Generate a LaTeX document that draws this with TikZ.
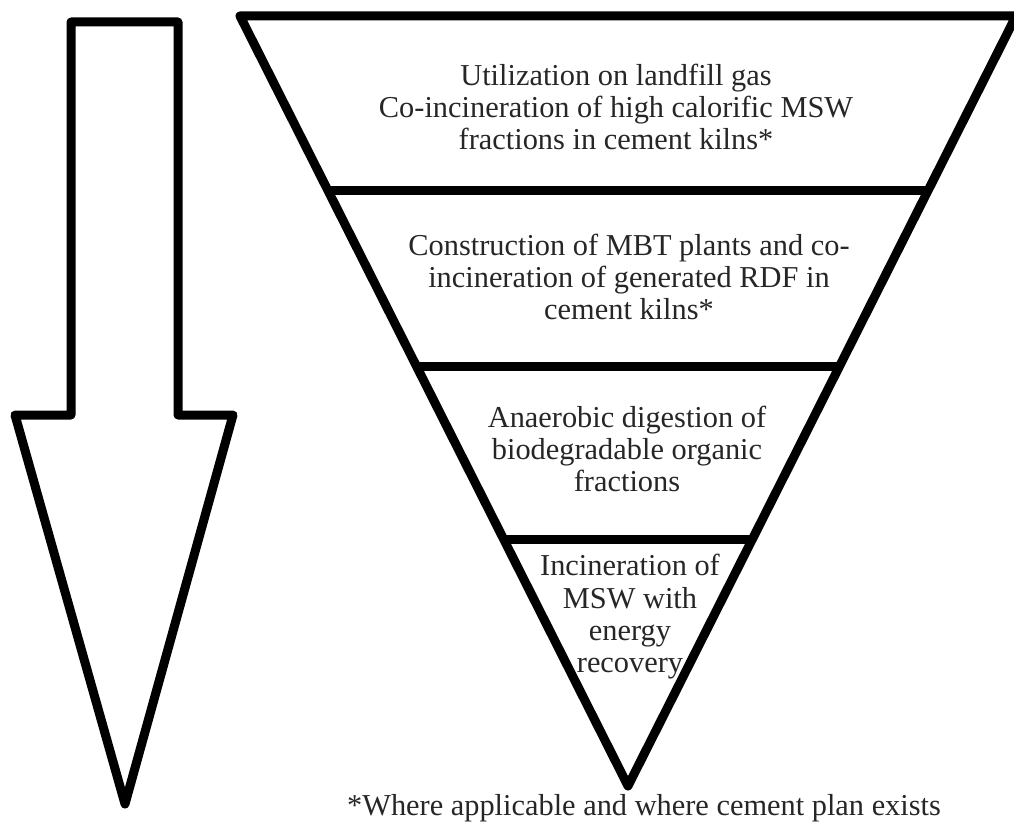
\documentclass[tikz,border=0pt]{standalone}
\usepackage{fontspec}
\setmainfont{Liberation Serif}
\usetikzlibrary{calc}

\begin{document}
\begin{tikzpicture}[%
        x=0.025cm, y=-0.025cm,
        thickline/.style={line width=6.4pt, line join=round, color=black},
        steptext/.style={align=center, inner sep=0pt, text=black!85,
            font=\fontsize{21.6}{23}\selectfont}
    ]
        \useasboundingbox (0,0) rectangle (1014,828);

        % big downward arrow on the left
        \coordinate (a1) at (71,22);
        \coordinate (a2) at (178,22);
        \coordinate (a3) at (178,415);
        \coordinate (a4) at (233,415);
        \coordinate (a5) at (125,804);
        \coordinate (a6) at (15,415);
        \coordinate (a7) at (71,415);
        \draw [thickline] (a1) -- (a2) -- (a3) -- (a4) -- (a5) -- (a6) -- (a7) -- cycle;

        % inverted triangle
        \coordinate (tl) at (240,16);
        \coordinate (tr) at (1016,16);
        \coordinate (tip) at (628,786);
        \draw [thickline] (tl) -- (tr) -- (tip) -- cycle;

        \foreach \t in {0.227,0.455,0.680}
            \draw [thickline] ($(tl)!\t!(tip)$) -- ($(tr)!\t!(tip)$);

        \node [steptext] (gas) at (616,107) {%
            Utilization on landfill gas\\
            Co-incineration of high calorific MSW\\
            fractions in cement kilns*};
        \node [steptext] (mbt) at (629,277) {%
            Construction of MBT plants and co-\\
            incineration of generated RDF in\\
            cement kilns*};
        \node [steptext] (ad) at (627,449) {%
            Anaerobic digestion of\\
            biodegradable organic\\
            fractions};
        \node [steptext] (inc) at (630,617) {%
            Incineration of\\
            MSW with\\
            energy\\
            recovery};

        \node [steptext] (note) at (644,808) {%
            *Where applicable and where cement plan exists};
    \end{tikzpicture}
\end{document}
